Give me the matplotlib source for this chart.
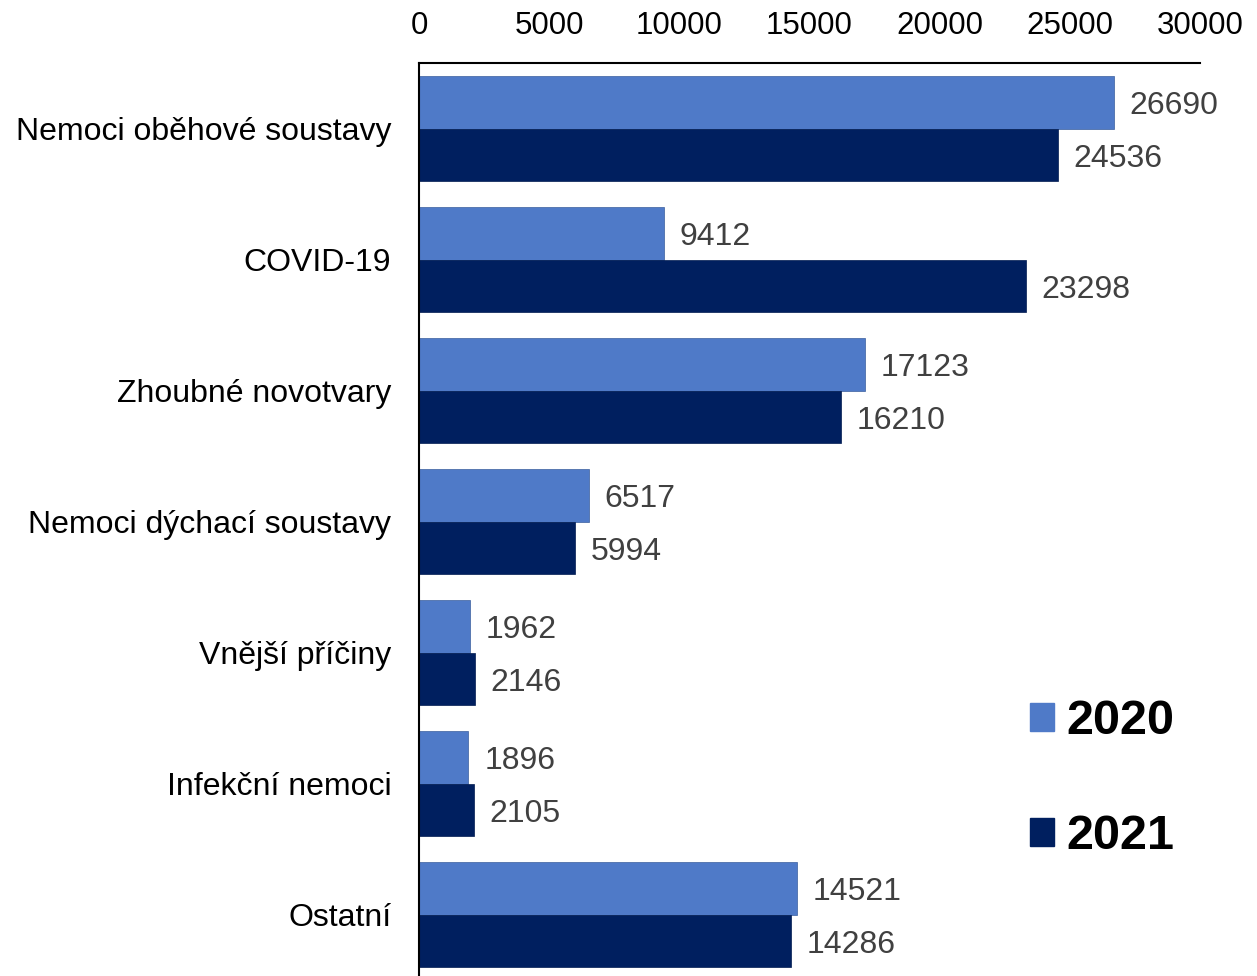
import numpy as np
import matplotlib.pyplot as plt
from matplotlib.patches import Patch

categories = ["Nemoci oběhové soustavy", "COVID-19", "Zhoubné novotvary",
              "Nemoci dýchací soustavy", "Vnější příčiny", "Infekční nemoci", "Ostatní"]
vals_2020 = [26690, 9412, 17123, 6517, 1962, 1896, 14521]
vals_2021 = [24536, 23298, 16210, 5994, 2146, 2105, 14286]
years = ["2020", "2021"]
xticks = [0, 5000, 10000, 15000, 20000, 25000, 30000]

c2020 = "#4F7AC8"
c2021 = "#001F5F"

plt.rcParams["font.family"] = ["Liberation Sans", "DejaVu Sans"]

fig = plt.figure(figsize=(12.57, 9.76), dpi=100)
ax = fig.add_axes([419/1257, -4/976, (1200-419)/1257, (980-63)/976])

y = np.arange(len(categories))
h = 0.4
ax.barh(y - h/2, vals_2020, height=h, color=c2020, edgecolor="#3A5E9E", linewidth=0.5)
ax.barh(y + h/2, vals_2021, height=h, color=c2021, edgecolor="#001A50", linewidth=0.5)

# value labels next to bar ends
for yi, v in zip(y, vals_2020):
    ax.annotate(str(v), (v, yi - h/2), xytext=(11.5, -3), textcoords="offset points",
                va="center", ha="left", fontsize=23, color="#404040")
for yi, v in zip(y, vals_2021):
    ax.annotate(str(v), (v, yi + h/2), xytext=(11.5, -3), textcoords="offset points",
                va="center", ha="left", fontsize=23, color="#404040")

ax.set_xlim(0, 30000)
ax.set_ylim(len(categories) - 0.5, -0.5)
ax.set_yticks(y)
ax.set_yticklabels(categories, fontsize=23)
ax.set_xticks(xticks)
ax.set_xticklabels([str(t) for t in xticks], fontsize=22.5)
ax.xaxis.tick_top()
ax.tick_params(axis="both", length=0)
ax.tick_params(axis="y", pad=20)
ax.tick_params(axis="x", pad=16)
for s in ["right", "bottom"]:
    ax.spines[s].set_visible(False)
ax.spines["left"].set_linewidth(1.5)
ax.spines["top"].set_linewidth(1.5)

handles = [Patch(color=c2020), Patch(color=c2021)]
ax.legend(handles, years, loc="upper left", bbox_to_anchor=(1030/1257, 1 - 699/976),
          bbox_transform=fig.transFigure, frameon=False,
          prop={"weight": "bold", "size": 35}, handlelength=0.5, handleheight=0.5,
          handletextpad=0.25, labelspacing=1.45, borderpad=0, borderaxespad=0)

fig.savefig("out.png", dpi=100)
